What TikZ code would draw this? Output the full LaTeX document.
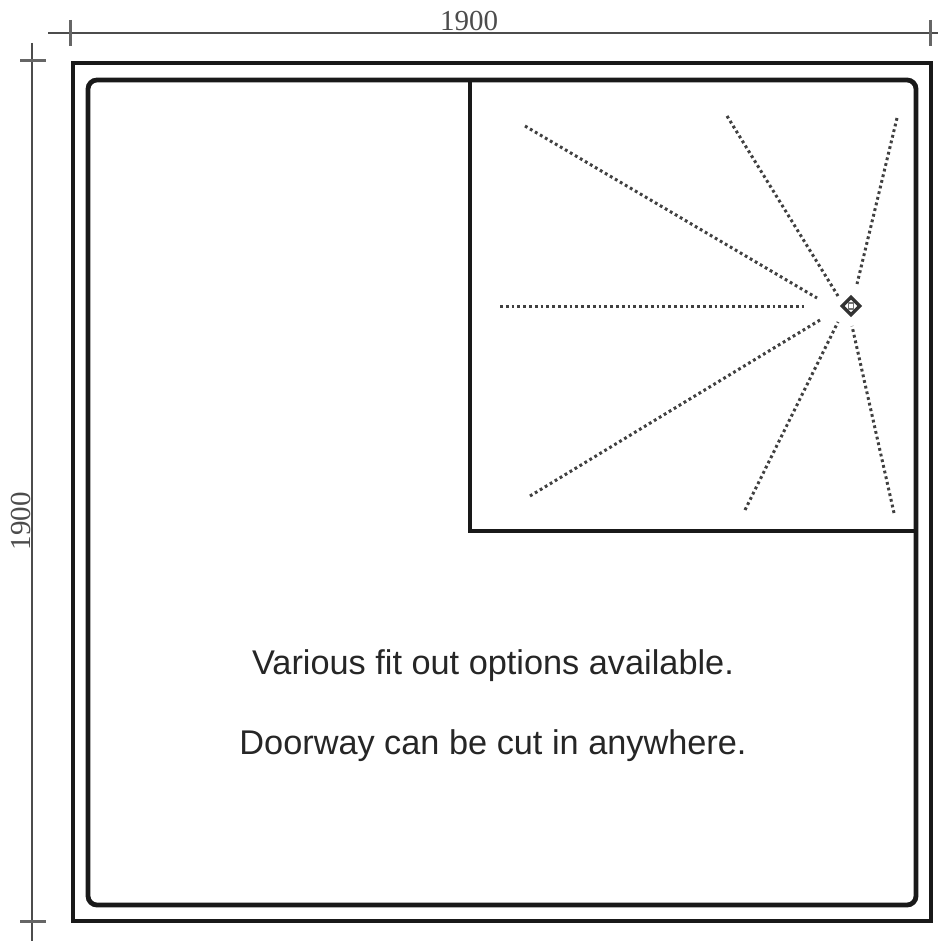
\documentclass[tikz,border=0pt]{standalone}
\usepackage{fontspec}
\setmainfont{Liberation Sans}
\newfontfamily\dimfont{Liberation Serif}
\usetikzlibrary{shapes.geometric}
\tikzset{
  wall/.style={draw=black!90,line width=4.8pt,line join=miter},
  dimline/.style={draw=black!70,line width=2.4pt},
  ticklike/.style={draw=black!60,line width=3pt},
  ray/.style={draw=black!75,line width=3pt,dash pattern=on 2.8pt off 3pt},
  note/.style={font=\fontsize{34.3}{38}\selectfont,text=black!85,inner sep=0pt,anchor=center},
  dimtext/.style={font=\dimfont\fontsize{29}{32}\selectfont,text=black!70,inner sep=0pt,anchor=center},
}
\begin{document}
\begin{tikzpicture}[x=1pt,y=-1pt]
\useasboundingbox (0,0) rectangle (938,941);
% dimension lines
\coordinate (hl) at (48,33); \coordinate (hr) at (938,33);
\coordinate (vt) at (32,43); \coordinate (vb) at (32,941);
\draw[dimline] (hl) -- (hr);
\draw[dimline] (vt) -- (vb);
\draw[ticklike] (70,20) -- (70,46);
\draw[ticklike] (930,20) -- (930,46);
\draw[ticklike] (20,61) -- (46,61);
\draw[ticklike] (20,921) -- (46,921);
\node[dimtext,fill=white,inner xsep=1pt] (dimw) at (469,21) {1900};
\node[dimtext,rotate=90] (dimh) at (21,521) {1900};
% walls
\draw[wall] (73,63) rectangle (931,921);
\draw[wall,rounded corners=9pt] (88,80) rectangle (916,905);
\draw[wall,line width=4.4pt] (470,80) -- (470,531) -- (916,531);
% drain
\node[draw=black!80,line width=3.4pt,diamond,minimum width=19pt,minimum height=19pt,inner sep=0pt] (drain) at (851,306) {};
\node[draw=black!55,line width=1.2pt,minimum width=5pt,minimum height=6pt,inner sep=0pt] (grate) at (851,306) {};
% falls
\foreach \a/\b/\c/\d in {525/126/817/298,727/116/838/296,897/118/857/284,500/306/806/306,530/496/820/320,745/510/838/322,894/513/852/326}
  \draw[ray] (\a,\b) -- (\c,\d);
% text
\node[note] (n1) at (493,666) {Various fit out options available.};
\node[note] (n2) at (493,746) {Doorway can be cut in anywhere.};
\end{tikzpicture}
\end{document}
